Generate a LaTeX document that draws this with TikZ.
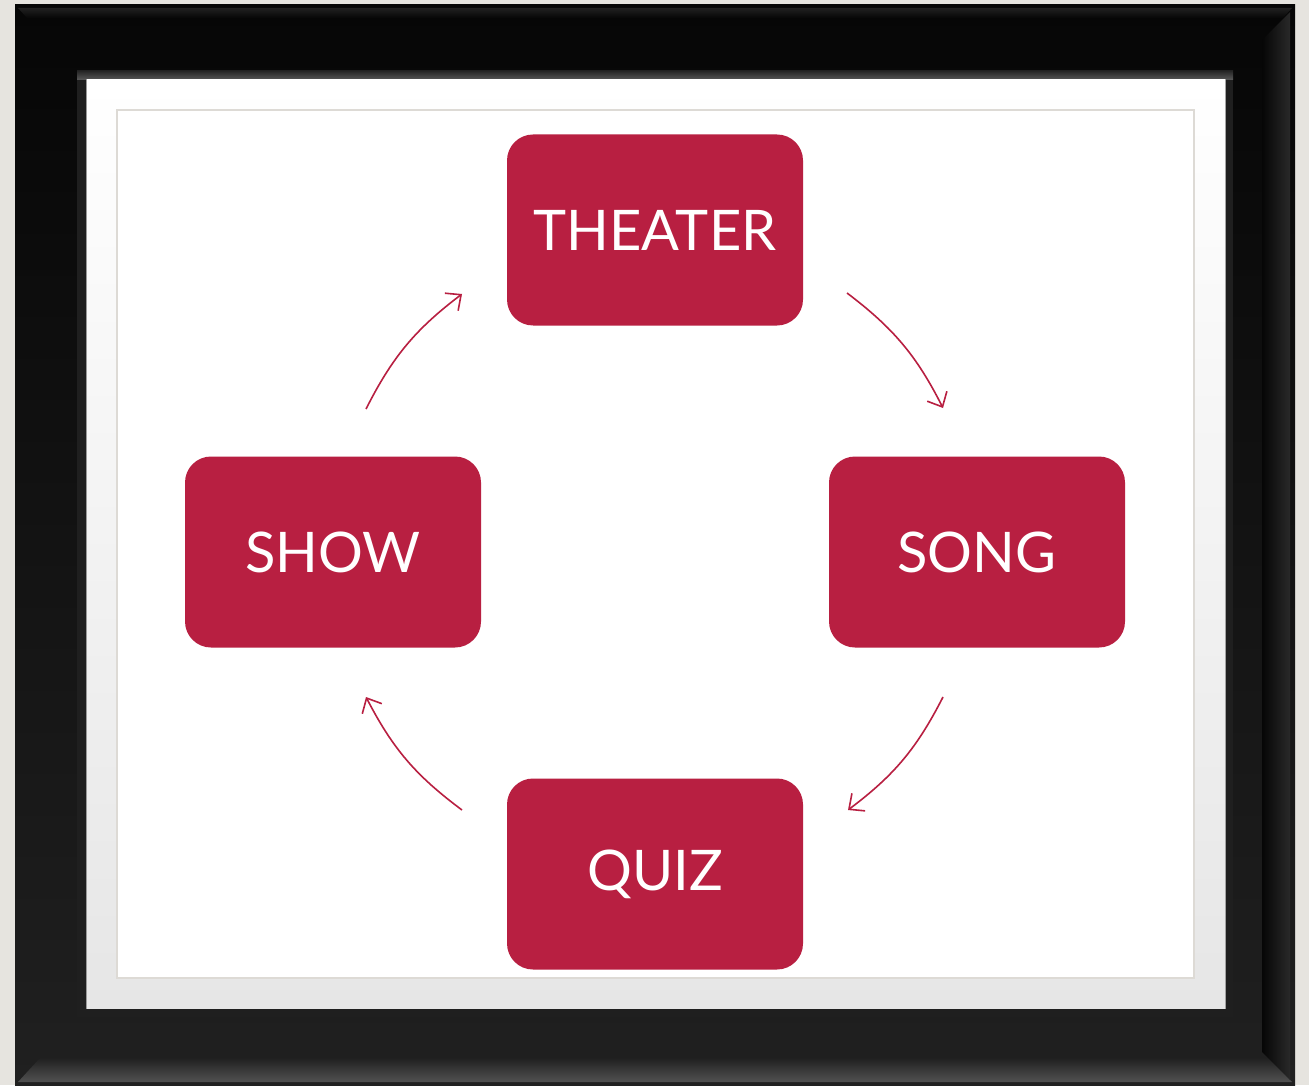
\documentclass[tikz,border=0pt]{standalone}
\usepackage{fontspec}
\setmainfont{Lato}
\usetikzlibrary{arrows.meta,positioning}
\definecolor{crimson}{HTML}{B81F41}
\definecolor{wall}{HTML}{E6E4DF}
\definecolor{framedark}{HTML}{060606}
\definecolor{framelight}{HTML}{202020}
\definecolor{matgray}{HTML}{E6E6E6}
\definecolor{edgegray}{HTML}{DDDAD5}
\tikzset{
    box/.style =    {rectangle,
                    rounded corners=13pt,
                    fill=crimson,
                    draw=none,
                    text=white,
                    minimum width=148pt,
                    minimum height=95.5pt,
                    font=\fontsize{28}{28}\selectfont},
    link/.style =   {draw=crimson,
                    line width=0.8pt},
    >={Straight Barb[length=6pt,width=11pt]},
    node distance=161pt}

\begin{document}
\begin{tikzpicture}[x=0.5pt,y=-0.5pt]
            \useasboundingbox (0,0) rectangle (1309,1085);
            % wall and frame
            \fill[wall]         (0,0) rectangle (1309,1085);
            \shade[top color=framedark, bottom color=framelight] (15,5) rectangle (1295,1085);
            \shade[top color=framelight, bottom color=framedark] (18,8) -- (1292,8) -- (1283,18) -- (27,18) -- cycle;
            \shade[top color=framelight, bottom color=black!68!white] (40,1058) -- (1270,1058) -- (1292,1082) -- (18,1082) -- cycle;
            \shade[left color=framedark, right color=black!84!white] (1262,40) -- (1290,12) -- (1290,1080) -- (1262,1052) -- cycle;
            \fill[black!88!white] (77,71) rectangle (1233,1017);
            \shade[top color=black!85!white, bottom color=black!65!white] (77,71) rectangle (1233,80);
            \draw[black!40!white, line width=0.5pt] (86.5,79.5) rectangle (1225.5,1008.5);
            % mat and picture
            \shade[top color=white, bottom color=matgray] (87,80) rectangle (1225,1008);
            \filldraw[fill=white, draw=edgegray, line width=0.6pt] (117,110) rectangle (1194,978);

            \coordinate (O) at (655,552);
            \node[box]          (A) [above of=O]        {THEATER};
            \node[box]          (B) [right of=O]        {SONG};
            \node[box]          (C) [below of=O]        {QUIZ};
            \node[box]          (D) [left of=O]         {SHOW};

            \coordinate (a1) at (847,293);  \coordinate (b1) at (943,408);
            \coordinate (b2) at (943,697);  \coordinate (c2) at (848,810);
            \coordinate (c3) at (462,810);  \coordinate (d3) at (366,697);
            \coordinate (d4) at (366,409);  \coordinate (a4) at (462,294);

            \path [link]    (a1) edge [->, bend left=13]    (b1)
                            (b2) edge [->, bend left=13]    (c2)
                            (c3) edge [->, bend left=13]    (d3)
                            (d4) edge [->, bend left=13]    (a4);
\end{tikzpicture}
\end{document}
